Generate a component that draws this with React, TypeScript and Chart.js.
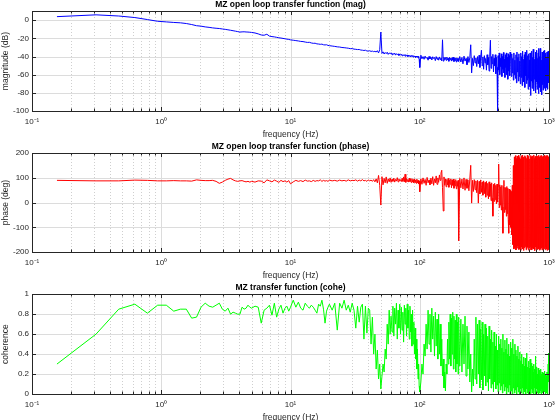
import React, { useEffect, useRef } from "react";
import { Chart, registerables } from "chart.js";

Chart.register(...registerables);

const FONT = "'Liberation Sans', Arial, Helvetica, sans-serif";
Chart.defaults.font.family = FONT;

// frequency bins (Hz)
const FREQ = [
  // 0.156 .. 5
  0.156, 0.313, 0.469, 0.625, 0.781, 0.938, 1.094, 1.25, 1.406, 1.563, 1.719, 1.875, 2.031, 2.188, 2.344, 2.5,
  2.656, 2.813, 2.969, 3.125, 3.281, 3.438, 3.594, 3.75, 3.906, 4.063, 4.219, 4.375, 4.531, 4.688, 4.844, 5.0,
  // 5 .. 10
  5.313, 5.625, 5.938, 6.25, 6.563, 6.875, 7.188, 7.5, 7.813, 8.125, 8.438, 8.75, 9.063, 9.375, 9.688, 10,
  // 10 .. 20
  10.5, 11, 11.5, 12, 12.5, 13, 13.5, 14, 14.5, 15, 15.5, 16, 16.5, 17, 17.5, 18, 18.5, 19, 19.5, 20,
  // 21 .. 50
  21, 22, 23, 24, 25, 26, 27, 28, 29, 30, 31, 32, 33, 34, 35, 36, 37, 38, 39, 40, 41, 42, 43, 44, 45, 46, 47, 48, 49, 50,
  // 51 .. 100
  51, 52, 53, 54, 55, 56, 57, 58, 59, 60, 61, 62, 63, 64, 65, 66, 67, 68, 69, 70,
  71, 72, 73, 74, 75, 76, 77, 78, 79, 80, 81, 82, 83, 84, 85, 86, 87, 88, 89, 90,
  91, 92, 93, 94, 95, 96, 97, 98, 99, 100,
  // 102 .. 200
  102, 104, 106, 108, 110, 112, 114, 116, 118, 120, 122, 124, 126, 128, 130, 132, 134, 136, 138, 140,
  142, 144, 146, 148, 150, 152, 154, 156, 158, 160, 162, 164, 166, 168, 170, 172, 174, 176, 178, 180,
  182, 184, 186, 188, 190, 192, 194, 196, 198, 200,
  // 204 .. 500
  204, 208, 212, 216, 220, 224, 228, 232, 236, 240, 244, 248, 252, 256, 260, 264, 268, 272, 276, 280,
  284, 288, 292, 296, 300, 304, 308, 312, 316, 320, 324, 328, 332, 336, 340, 344, 348, 352, 356, 360,
  364, 368, 372, 376, 380, 384, 388, 392, 396, 400, 404, 408, 412, 416, 420, 424, 428, 432, 436, 440,
  444, 448, 452, 456, 460, 464, 468, 472, 476, 480, 484, 488, 492, 496, 500,
  // 505 .. 1000
  505, 510, 515, 520, 525, 530, 535, 540, 545, 550, 555, 560, 565, 570, 575, 580, 585, 590, 595, 600,
  605, 610, 615, 620, 625, 630, 635, 640, 645, 650, 655, 660, 665, 670, 675, 680, 685, 690, 695, 700,
  705, 710, 715, 720, 725, 730, 735, 740, 745, 750, 755, 760, 765, 770, 775, 780, 785, 790, 795, 800,
  805, 810, 815, 820, 825, 830, 835, 840, 845, 850, 855, 860, 865, 870, 875, 880, 885, 890, 895, 900,
  905, 910, 915, 920, 925, 930, 935, 940, 945, 950, 955, 960, 965, 970, 975, 980, 985, 990, 995, 1000,
];

// magnitude (dB)
const MAG = [
  4, 6, 4.7, 3, 0.8, -1.1, -1.8, -2.4, -2.8, -3.6, -4.7, -6, -6.5, -7.3, -7.8, -8.4,
  -8.8, -9.1, -9.6, -10, -10.5, -11, -11.5, -12, -12.5, -13, -12.8, -12.7, -12.9, -13, -13.2, -13.4,
  -14, -15, -16.2, -16.5, -15.4, -17.5, -18, -18.3, -18.8, -19.3, -19.6, -20, -20.4, -20.8, -21.1, -21.6,
  -22, -22.4, -22.8, -23.3, -23.5, -24, -24.4, -24.3, -25, -25.4, -25.3, -26, -26.2, -26.5, -26.3, -27, -27.2, -27, -27.7, -28,
  -28.4, -28.8, -29.3, -29.5, -30, -30.2, -30.5, -30.8, -31.3, -31.2, -31.8, -32, -32.3, -32.2, -32.8, -33, -33.3, -33, -33.8, -34,
  -33.6, -34.3, -34, -34.6, -34.2, -35, -33.5, -36, -32.5, -13,
  -36.5, -34.8, -37.2, -35.5, -36.8, -35.2, -37.6, -36, -37, -35.8, -38, -36.4, -37.5, -36.2, -38.4, -36.8, -37.9, -37, -38.8, -37.2,
  -38.5, -37.4, -39.2, -37.8, -38.6, -38, -39.6, -37.9, -39, -38.3, -40, -38.4, -39.5, -38.8, -40.4, -38.9, -39.8, -39.2, -40.6, -39,
  -40.2, -39.5, -41, -39.4, -40.5, -39.8, -41.5, -39.6, -43, -52,
  -38.5, -42.5, -40, -43, -39.5, -42, -40.8, -44, -39.8, -42.6, -40.5, -43.8, -40.2, -42.2, -41, -44.5, -40, -43, -41.2, -44,
  -40.4, -43.2, -41.5, -44.8, -21.5, -45, -40.8, -43.5, -41, -44.2, -40.6, -43.6, -41.8, -45.2, -40.9, -43.4, -41.6, -45, -41.2, -44,
  -40.8, -45.5, -42, -44.4, -41.5, -46, -41.4, -44.6, -42.2, -45.4,
  -40, -46, -41, -48, -39.5, -45, -42, -49, -40, -46.5, -41, -27, -58, -42, -50, -39, -47, -41.5, -51, -40,
  -48, -38.5, -52, -41, -33, -50, -40.5, -54, -39, -47, -42, -55, -38, -49, -41, -56, -39.5, -22, -53, -40,
  -48, -37.5, -57, -42, -50, -38, -59, -41, -52, -100, -39, -55, -36, -60, -42, -51, -37, -62, -40, -54,
  -35.5, -58, -43, -63, -38, -52, -36, -60, -41, -65, -37, -56, -39, -61, -35,
  -40, -62, -37, -58, -42, -66, -36, -60, -44, -64, -38, -69, -35, -57, -41, -67, -37, -62, -45, -70,
  -36, -63, -40, -72, -34, -59, -43, -68, -38, -74, -35, -61, -42, -70, -33, -66, -39, -76, -37, -64,
  -44, -73, -36, -83, -40, -67, -34, -75, -41, -69, -32, -78, -38, -65, -43, -72, -35, -80, -39, -68,
  -33, -76, -42, -70, -36, -81, -31, -66, -40, -74, -31, -79, -37, -69, -44, -82, -35, -71, -39, -77,
  -34, -68, -41, -75, -33, -70, -38, -78, -36, -67, -42, -74, -35, -71, -39, -76, -34, -69, -40, -64,
];

// phase (deg)
const PHASE = [
  90, 88, 88, 91, 90, 88, 88, 89, 88, 88, 87, 92, 90, 89, 89, 90,
  86, 78, 83, 90, 95, 98, 92, 88, 86, 88, 89, 86, 84, 86, 83, 86,
  83, 88, 87, 80, 92, 88, 84, 91, 87, 82, 90, 85, 88, 83, 89, 76,
  84, 90, 86, 89, 85, 91, 87, 88, 85, 90, 86, 89, 88, 92, 86, 90, 87, 89, 86, 91,
  88, 90, 87, 91, 88, 90, 87, 92, 88, 90, 89, 92, 87, 91, 88, 93, 88, 90, 86, 92,
  88, 91, 86, 93, 84, 96, 80, 110, 70, -10,
  105, 72, 98, 80, 104, 78, 96, 84, 100, 82, 95, 86, 99, 83, 94, 87, 101, 84, 96, 88,
  93, 85, 98, 86, 104, 84, 115, 82, 97, 86, 94, 83, 99, 85, 95, 81, 97, 84, 93, 80,
  96, 82, 92, 78, 95, 80, 90, 76, 88, 44,
  96, 74, 100, 78, 94, 70, 102, 80, 92, 72, 99, 76, 105, 70, 96, 80, 108, 74, 100, 82,
  112, 90, 120, 131, 60, -34, 104, 70, 96, 64, 94, 72, 98, 62, 90, 74, 96, 60, 92, 70,
  95, 58, 88, 68, 93, 56, 86, 66, 90, -154,
  98, 60, 95, 55, 100, 50, 94, 58, 92, 48, 96, 151, -2, 90, 45, 93, 52, 88, 40, 90,
  -2, 86, 35, 92, 42, 84, 30, 88, 36, 82, 22, 86, 30, 78, 15, 84, 25, 76, 8, 80,
  18, -55, 74, 5, 78, 12, 70, -5, 75, 2, 68, 156, -20, 72, -10, 64, -30, 70, -18, -124,
  66, 90, -40, 62, -28, 60, -55, 65, -45, 58, -70, -124, 55, -90, 50,
  -100, 45, -130, 70, -170, 150, -188, 185, -182, 190, -192, 178, -185, 188, -176, 191, -190, 182, -186, 176,
  -193, 187, -180, 192, -188, 180, -194, 185, -183, 190, -178, 186, -191, 179, -187, 192, -181, 184, -193, 188,
  -184, 177, -190, 191, -179, 186, -192, 181, -186, 189, -182, 193, -188, 178, -194, 187, -180, 184, -189, 190,
  -185, 179, -191, 188, -177, 192, -187, 183, -193, 186, -181, 190, -189, 177, -184, 191, -192, 185, -179, 188,
  -190, 182, -186, 193, -183, 178, -191, 187, -180, 190, -188, 184, -193, 179, -185, 191, -182, 186, -190, 180,
];

// coherence
const COHE = [
  0.3, 0.6, 0.85, 0.9, 0.81, 0.89, 0.89, 0.83, 0.85, 0.85, 0.76, 0.77, 0.87, 0.91, 0.88, 0.87,
  0.89, 0.91, 0.85, 0.83, 0.86, 0.8, 0.82, 0.81, 0.8, 0.8, 0.87, 0.85, 0.86, 0.89, 0.87, 0.86,
  0.88, 0.87, 0.71, 0.84, 0.86, 0.89, 0.79, 0.91, 0.77, 0.85, 0.89, 0.81, 0.86, 0.88, 0.83, 0.87,
  0.94, 0.87, 0.92, 0.86, 0.84, 0.91, 0.88, 0.86, 0.89, 0.87, 0.84, 0.81, 0.9, 0.88, 0.94, 0.85, 0.71, 0.83, 0.87, 0.9,
  0.84, 0.91, 0.64, 0.91, 0.86, 0.94, 0.84, 0.89, 0.82, 0.91, 0.84, 0.66, 0.88, 0.72, 0.87, 0.9, 0.55, 0.88, 0.61, 0.86,
  0.84, 0.5, 0.77, 0.4, 0.6, 0.25, 0.44, 0.15, 0.3, 0.05,
  0.18, 0.3, 0.22, 0.45, 0.35, 0.7, 0.5, 0.84, 0.6, 0.78, 0.62, 0.88, 0.58, 0.86, 0.7, 0.91, 0.55, 0.84, 0.66, 0.9,
  0.6, 0.87, 0.64, 0.82, 0.52, 0.89, 0.7, 0.86, 0.58, 0.9, 0.66, 0.84, 0.55, 0.88, 0.62, 0.8, 0.48, 0.84, 0.5, 0.72,
  0.4, 0.66, 0.35, 0.55, 0.25, 0.45, 0.15, 0.3, 0.08, 0.02,
  0.12, 0.3, 0.2, 0.5, 0.38, 0.7, 0.45, 0.84, 0.5, 0.8, 0.42, 0.86, 0.55, 0.78, 0.38, 0.82, 0.48, 0.75, 0.35, 0.8,
  0.4, 0.7, 0.28, 0.55, 0.18, 0.35, 0.06, 0.22, 0.03, 0.3, 0.2, 0.55, 0.3, 0.72, 0.35, 0.8, 0.28, 0.76, 0.4, 0.82,
  0.25, 0.78, 0.35, 0.74, 0.22, 0.8, 0.3, 0.72, 0.2, 0.77,
  0.28, 0.75, 0.22, 0.7, 0.3, 0.78, 0.18, 0.68, 0.25, 0.62, 0.12, 0.4, 0.02, 0.25, 0.08, 0.55, 0.15, 0.77, 0.1, 0.7,
  0.2, 0.74, 0.06, 0.65, 0.14, 0.72, 0.04, 0.6, 0.18, 0.7, 0.08, 0.66, 0.12, 0.58, 0.03, 0.68, 0.15, 0.55, 0.06, 0.64,
  0.1, 0.52, 0.02, 0.62, 0.12, 0.48, 0.05, 0.6, 0.09, 0.44, 0.02, 0.58, 0.11, 0.5, 0.04, 0.55, 0.08, 0.46, 0.01, 0.6,
  0.1, 0.42, 0.03, 0.54, 0.07, 0.45, 0.0, 0.56, 0.06, 0.4, 0.02, 0.5, 0.09, 0.38, 0.0,
  0.52, 0.03, 0.46, 0.0, 0.55, 0.06, 0.4, 0.01, 0.5, 0.04, 0.44, 0.0, 0.38, 0.07, 0.48, 0.02, 0.35, 0.0, 0.42, 0.05,
  0.33, 0.01, 0.4, 0.06, 0.3, 0.0, 0.37, 0.04, 0.28, 0.02, 0.36, 0.0, 0.3, 0.05, 0.41, 0.01, 0.27, 0.06, 0.33, 0.0,
  0.26, 0.03, 0.35, 0.0, 0.24, 0.05, 0.31, 0.01, 0.28, 0.04, 0.22, 0.0, 0.3, 0.06, 0.25, 0.02, 0.38, 0.0, 0.23, 0.05,
  0.27, 0.01, 0.2, 0.04, 0.26, 0.0, 0.21, 0.06, 0.24, 0.01, 0.18, 0.03, 0.25, 0.0, 0.2, 0.05, 0.22, 0.01, 0.17, 0.04,
  0.21, 0.0, 0.19, 0.05, 0.23, 0.02, 0.16, 0.0, 0.2, 0.04, 0.18, 0.01, 0.22, 0.03, 0.17, 0.0, 0.3, 0.41, 0.12, 0.2,
];

const X_TICKS = [0.1, 1, 10, 100, 1000];
const X_LABELS = ["10\u207B\u00B9", "10\u2070", "10\u00B9", "10\u00B2", "10\u00B3"];
const X_MINOR = [
  0.2, 0.3, 0.4, 0.5, 0.6, 0.7, 0.8, 0.9,
  2, 3, 4, 5, 6, 7, 8, 9,
  20, 30, 40, 50, 60, 70, 80, 90,
  200, 300, 400, 500, 600, 700, 800, 900,
];
const MAG_TICKS = [-100, -80, -60, -40, -20, 0];
const PHASE_TICKS = [-200, -100, 0, 100, 200];
const COHE_TICKS = [0, 0.2, 0.4, 0.6, 0.8, 1];

const AXIS_COLOR = "#262626";

const framePlugin = {
  id: "matlabFrame",
  beforeDatasetsDraw(chart: any) {
    const { ctx, chartArea: a, scales } = chart;
    const xs = scales.x;
    const ys = scales.y;
    const L = Math.round(a.left), R = Math.round(a.right), T = Math.round(a.top), B = Math.round(a.bottom);
    ctx.save();
    ctx.lineWidth = 1;
    ctx.strokeStyle = "#cfcfcf";
    ctx.setLineDash([1, 2]);
    for (const v of X_MINOR) {
      const px = Math.round(xs.getPixelForValue(v)) + 0.5;
      ctx.beginPath();
      ctx.moveTo(px, T);
      ctx.lineTo(px, B);
      ctx.stroke();
    }
    ctx.setLineDash([]);
    ctx.strokeStyle = "#dcdcdc";
    for (const v of X_TICKS) {
      const px = Math.round(xs.getPixelForValue(v)) + 0.5;
      ctx.beginPath();
      ctx.moveTo(px, T);
      ctx.lineTo(px, B);
      ctx.stroke();
    }
    for (const t of ys.ticks) {
      const py = Math.round(ys.getPixelForValue(t.value)) + 0.5;
      ctx.beginPath();
      ctx.moveTo(L, py);
      ctx.lineTo(R, py);
      ctx.stroke();
    }
    ctx.restore();
  },
  afterDatasetsDraw(chart: any) {
    const { ctx, chartArea: a, scales } = chart;
    const xs = scales.x;
    const ys = scales.y;
    const L = Math.round(a.left), R = Math.round(a.right), T = Math.round(a.top), B = Math.round(a.bottom);
    ctx.save();
    ctx.lineWidth = 1;
    ctx.strokeStyle = AXIS_COLOR;
    const vtick = (v: number, len: number) => {
      const px = Math.round(xs.getPixelForValue(v)) + 0.5;
      ctx.beginPath();
      ctx.moveTo(px, B);
      ctx.lineTo(px, B - len);
      ctx.moveTo(px, T);
      ctx.lineTo(px, T + len);
      ctx.stroke();
    };
    X_MINOR.forEach((v) => vtick(v, 2.5));
    X_TICKS.forEach((v) => vtick(v, 4));
    for (const t of ys.ticks) {
      const py = Math.round(ys.getPixelForValue(t.value)) + 0.5;
      ctx.beginPath();
      ctx.moveTo(L, py);
      ctx.lineTo(L + 4, py);
      ctx.moveTo(R, py);
      ctx.lineTo(R - 4, py);
      ctx.stroke();
    }
    ctx.strokeRect(L + 0.5, T + 0.5, R - L, B - T);
    ctx.restore();
  },
};

type PanelProps = {
  top: number;
  height: number;
  title: string;
  yLabel: string;
  values: number[];
  color: string;
  yMin: number;
  yMax: number;
  yTicks: number[];
};

function Panel({ top, height, title, yLabel, values, color, yMin, yMax, yTicks }: PanelProps) {
  const ref = useRef<HTMLCanvasElement | null>(null);
  useEffect(() => {
    if (!ref.current) return;
    const n = Math.min(FREQ.length, values.length);
    const chart = new Chart(ref.current, {
      type: "line",
      data: {
        datasets: [
          {
            data: FREQ.slice(0, n).map((f, i) => ({ x: f, y: values[i] })),
            borderColor: color,
            borderWidth: 1,
            pointRadius: 0,
            fill: false,
            tension: 0,
          },
        ],
      },
      options: {
        animation: false,
        responsive: false,
        devicePixelRatio: 1,
        layout: { padding: { left: 0, right: 16, top: 0, bottom: 0 } },
        plugins: {
          legend: { display: false },
          tooltip: { enabled: false },
          title: {
            display: true,
            text: title,
            fullSize: false,
            color: "#000",
            font: { family: FONT, size: 8.5, weight: "bold", lineHeight: 1.2 },
            padding: { top: 0, bottom: 1 },
          },
        },
        scales: {
          x: {
            type: "logarithmic",
            min: 0.1,
            max: 1000,
            afterBuildTicks: (s: any) => {
              s.ticks = X_TICKS.map((v) => ({ value: v }));
            },
            afterFit: (s: any) => {
              s.height = 29;
            },
            ticks: {
              autoSkip: false,
              maxRotation: 0,
              minRotation: 0,
              padding: 6,
              color: AXIS_COLOR,
              font: { family: FONT, size: 8 },
              callback: (_v: any, i: number) => X_LABELS[i],
            },
            grid: { display: false, drawTicks: false },
            border: { display: false },
            title: {
              display: true,
              text: "frequency (Hz)",
              color: AXIS_COLOR,
              font: { family: FONT, size: 8.5, lineHeight: 1.2 },
              padding: { top: 0, bottom: 0 },
            },
          },
          y: {
            type: "linear",
            min: yMin,
            max: yMax,
            afterBuildTicks: (s: any) => {
              s.ticks = yTicks.map((v) => ({ value: v }));
            },
            afterFit: (s: any) => {
              s.width = 32;
            },
            ticks: {
              padding: 3,
              color: AXIS_COLOR,
              font: { family: FONT, size: 8 },
              callback: (v: any) => String(v),
            },
            grid: { display: false, drawTicks: false },
            border: { display: false },
            title: {
              display: true,
              text: yLabel,
              color: AXIS_COLOR,
              font: { family: FONT, size: 8.5, lineHeight: 1.2 },
              padding: { top: 1, bottom: 0 },
            },
          },
        },
      } as any,
      plugins: [framePlugin],
    });
    return () => chart.destroy();
  }, []);
  return (
    <canvas
      ref={ref}
      width={565}
      height={height}
      style={{ position: "absolute", left: 0, top, width: 565, height, display: "block" }}
    />
  );
}

export default function App() {
  return (
    <div
      style={{
        position: "fixed",
        left: 0,
        top: 0,
        width: 555,
        height: 420,
        overflow: "hidden",
        background: "#fff",
      }}
    >
      <Panel top={0} height={140} title="MZ open loop transfer function (mag)" yLabel="magnitude (dB)"
        values={MAG} color="#0000ff" yMin={-100} yMax={10} yTicks={MAG_TICKS} />
      <Panel top={142} height={139} title="MZ open loop transfer function (phase)" yLabel="phase (deg)"
        values={PHASE} color="#ff0000" yMin={-200} yMax={200} yTicks={PHASE_TICKS} />
      <Panel top={283} height={140} title="MZ transfer function (cohe)" yLabel="coherence"
        values={COHE} color="#00ff00" yMin={0} yMax={1} yTicks={COHE_TICKS} />
    </div>
  );
}
